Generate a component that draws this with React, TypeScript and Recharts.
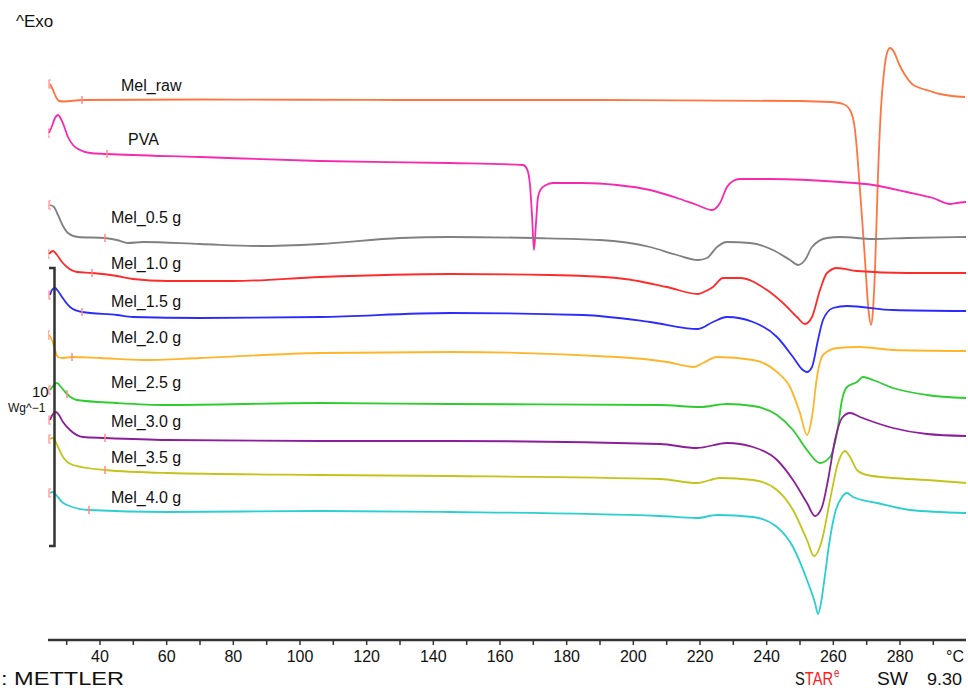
import { LineChart, Line, XAxis, YAxis } from "recharts";

// temperature (°C), heat flow offset (arbitrary, exo up)
const melRaw: [number, number][] = [
  [25.0, 556], [25.9, 550], [26.8, 543], [27.7, 539], [29.2, 538.5], [34.6, 540],
  [70, 540.5], [130, 540], [190, 540], [250, 539], [259, 538], [262.9, 536],
  [265, 530], [266.5, 510], [268, 450], [269.5, 380], [270.55, 330], [271.3, 315],
  [271.9, 330], [272.5, 370], [273.4, 465], [274.3, 532], [275.2, 568], [276.1, 587],
  [277, 592], [278.2, 588], [279.7, 576], [281.5, 565], [283.6, 556], [286, 552],
  [289, 549], [292, 546], [295.6, 544], [299.5, 543],
];

const pva: [number, number][] = [
  [24.7, 507], [25.6, 514], [26.5, 522], [27.4, 525], [28.3, 521], [29.2, 514],
  [30.4, 503], [31.9, 495], [34, 490], [37, 487], [42.1, 486], [70, 483],
  [106, 479], [145, 477], [166.9, 475], [168.1, 471], [169, 455], [169.6, 425],
  [170.2, 390], [170.8, 417], [171.4, 443], [172.3, 451], [173.8, 455], [175.9, 457],
  [184.9, 457], [195.1, 455], [205, 450], [213.1, 442], [219.1, 435], [223.6, 430],
  [226, 437], [228.1, 453], [229.9, 459], [232, 461], [241, 461], [262, 458],
  [271.9, 455], [282.1, 448], [289.9, 442], [295, 436], [297.1, 437], [299.8, 438],
];

const mel05: [number, number][] = [
  [25, 435], [26.2, 433], [27.4, 425], [28.9, 414], [30.4, 407], [33.4, 403],
  [41.5, 402], [45.1, 400], [48.4, 397], [52.9, 398], [70, 396], [88, 394],
  [106, 396], [130, 402], [145, 403], [169.9, 402], [190, 400], [205, 393],
  [213.1, 385], [219.4, 380], [222.1, 382], [225.1, 393], [228.1, 398], [235, 397],
  [241.9, 390], [247, 380], [249.4, 375], [251.5, 380], [253.6, 393], [258.1, 402],
  [262, 403], [271.9, 401], [282.1, 402], [299.8, 403],
];

const mel10: [number, number][] = [
  [24.7, 386], [25.9, 389], [27.1, 385], [28.6, 378], [30.1, 373], [33.1, 368],
  [37.6, 367], [45.1, 364], [49.9, 361], [60.1, 359], [79.9, 359], [106, 363],
  [145, 366], [175, 365], [195.1, 362], [210.1, 353], [219.4, 346], [221.8, 349],
  [223.9, 353], [226.9, 362], [232, 362], [240.1, 350], [244.9, 337], [249.1, 323],
  [251.5, 316], [253.6, 323], [256, 350], [258.1, 367], [261.1, 372], [267.1, 369],
  [282.1, 367], [299.8, 367],
];

const mel15: [number, number][] = [
  [25, 345], [25.6, 350], [26.5, 352], [27.4, 349], [28.6, 343], [31, 333],
  [34.6, 328], [45.1, 325], [49.9, 323], [70, 322], [106, 323], [145, 327],
  [184.9, 325], [205, 318], [219.4, 311], [223.9, 318], [228.1, 323], [235.9, 318],
  [243.1, 303], [247.9, 283], [250.9, 270], [252.1, 268], [253.6, 273], [255.4, 300],
  [256.9, 320], [259.9, 332], [264.1, 334], [277.9, 330], [299.8, 329],
];

const mel20: [number, number][] = [
  [24.7, 305], [25.6, 300], [26.5, 290], [27.4, 283], [28.6, 282], [31.6, 283],
  [40, 282], [52.9, 280], [70, 282], [106, 287], [145, 288], [195.1, 283],
  [210.1, 278], [218.2, 273], [220.9, 277], [225.1, 283], [235.9, 280], [243.1, 268],
  [247, 253], [250, 227], [252.1, 205], [253.6, 223], [255.1, 263], [256.9, 285],
  [261.1, 292], [268, 293], [277.9, 290], [299.8, 289],
];

const mel25: [number, number][] = [
  [25, 250], [26.2, 255], [27.1, 257], [28.3, 253], [30.1, 246], [33.1, 240],
  [45.1, 237], [60.1, 235], [106, 237], [145, 236], [208, 235], [220, 233],
  [228.1, 236], [235.9, 234], [243.1, 225], [247.9, 210], [252.1, 190], [256, 177],
  [259, 183], [261.1, 207], [262.6, 240], [264.1, 253], [267.1, 258], [268.9, 263],
  [271.9, 260], [277.9, 252], [288.1, 245], [299.8, 242],
];

const mel30: [number, number][] = [
  [25, 220], [25.9, 226], [26.8, 228], [27.7, 225], [28.9, 218], [31, 210],
  [34.9, 203], [41.5, 202], [60.1, 200], [106, 199], [145, 199], [208, 196],
  [219.1, 192], [228.1, 197], [235.9, 193], [243.1, 180], [247.9, 160], [252.1, 137],
  [254.5, 124], [256.6, 133], [258.4, 160], [260.5, 200], [262.6, 222], [265, 227],
  [268, 223], [277.9, 212], [288.1, 206], [299.8, 204],
];

const mel35: [number, number][] = [
  [25, 201], [25.9, 202], [27.4, 193], [28.9, 183], [31.9, 175], [41.5, 170],
  [60.1, 167], [106, 165], [145, 164], [208, 161], [219.1, 157], [226, 162],
  [235.9, 160], [243.1, 150], [247.9, 130], [252.1, 100], [254.2, 84], [256.6, 100],
  [259, 140], [261.4, 177], [263.5, 189], [265, 183], [267.1, 170], [270.1, 165],
  [277.9, 162], [288.1, 160], [299.8, 157],
];

const mel40: [number, number][] = [
  [25, 147], [25.9, 148], [27.1, 144], [28.6, 138], [30.1, 135], [36.7, 130],
  [60.1, 128], [106, 129], [145, 128], [208, 124], [219.1, 122], [225.1, 125],
  [235.9, 123], [243.1, 113], [247.9, 93], [252.1, 60], [254.5, 37], [255.4, 26],
  [256.3, 37], [257.5, 65], [258.7, 95], [260.5, 127], [262.6, 143], [264.1, 147],
  [265.9, 143], [273.1, 137], [283, 130], [299.8, 127],
];

const xTicks = [30, 40, 50, 60, 70, 80, 90, 100, 110, 120, 130, 140, 150, 160, 170, 180, 190, 200, 210, 220, 230, 240, 250, 260, 270, 280, 290];
const labelledTicks = [40, 60, 80, 100, 120, 140, 160, 180, 200, 220, 240, 260, 280];

const series = [
  { name: "Mel_raw", points: melRaw, mark: 34.6, color: "#ff7440", lx: 121, ly: 91 },
  { name: "PVA", points: pva, mark: 42.1, color: "#f52aae", lx: 128, ly: 145 },
  { name: "Mel_0.5 g", points: mel05, mark: 41.5, color: "#808080", lx: 111, ly: 223 },
  { name: "Mel_1.0 g", points: mel10, mark: 37.6, color: "#ff2a2a", lx: 111, ly: 269 },
  { name: "Mel_1.5 g", points: mel15, mark: 34.6, color: "#2b2bff", lx: 111, ly: 307 },
  { name: "Mel_2.0 g", points: mel20, mark: 31.6, color: "#ffb52a", lx: 111, ly: 343 },
  { name: "Mel_2.5 g", points: mel25, mark: 30.1, color: "#2ecc2e", lx: 111, ly: 388 },
  { name: "Mel_3.0 g", points: mel30, mark: 41.5, color: "#8b1f9b", lx: 111, ly: 427 },
  { name: "Mel_3.5 g", points: mel35, mark: 41.5, color: "#c3c31b", lx: 111, ly: 463 },
  { name: "Mel_4.0 g", points: mel40, mark: 36.7, color: "#2ccfd0", lx: 111, ly: 503 },
];

const font = "'Liberation Sans', Arial, Helvetica, sans-serif";
const markColor = "#ff8a8a";

function markerDot(mark: number) {
  return (props: any) => {
    const { cx, cy, index, payload } = props;
    const key = `m-${index}`;
    if (index === 0) {
      return <path key={key} d={`M${cx + 1},${cy - 4} h-2 v8 h2`} stroke={markColor} fill="none" strokeWidth={1.2} />;
    }
    if (payload && payload.t === mark) {
      return <line key={key} x1={cx} x2={cx} y1={cy - 4} y2={cy + 4} stroke={markColor} strokeWidth={1.5} />;
    }
    return <g key={key} />;
  };
}

function AxisTick(props: any) {
  const { x, y, payload } = props;
  const v = payload.value;
  return (
    <g>
      <line x1={x} x2={x} y1={y} y2={y + 5} stroke="#333" strokeWidth={1.5} />
      {labelledTicks.includes(v) ? (
        <text x={x} y={y + 22} textAnchor="middle" fontSize={16} fill="#111" fontFamily={font}>
          {v}
        </text>
      ) : null}
    </g>
  );
}

export default function App() {
  return (
    <div style={{ position: "absolute", left: 0, top: 0, width: 968, height: 690, background: "#fff", fontFamily: font }}>
      <LineChart width={968} height={690} margin={{ top: 0, right: 2, left: 48, bottom: 0 }}>
        <XAxis
          dataKey="t"
          type="number"
          domain={[24.4, 299.8]}
          allowDataOverflow
          ticks={xTicks}
          interval={0}
          height={50}
          tickSize={0}
          tickMargin={0}
          tickLine={false}
          axisLine={{ stroke: "#333", strokeWidth: 2.5 }}
          tick={<AxisTick />}
        />
        <YAxis hide width={0} type="number" domain={[0, 640]} allowDataOverflow />
        {series.map((s) => (
          <Line
            key={s.name}
            data={s.points.map(([t, v]) => ({ t, v }))}
            dataKey="v"
            type="monotone"
            stroke={s.color}
            strokeWidth={1.8}
            dot={markerDot(s.mark)}
            activeDot={false}
            isAnimationActive={false}
          />
        ))}
      </LineChart>
      <svg width={968} height={690} style={{ position: "absolute", left: 0, top: 0, pointerEvents: "none" }}>
        <g fontFamily={font} fill="#111">
          <text x={16} y={27} fontSize={17}>^Exo</text>
          {series.map((s) => (
            <text key={s.name} x={s.lx} y={s.ly} fontSize={16}>{s.name}</text>
          ))}
          <path d="M49,268 H54.5 V546 H49" stroke="#333" strokeWidth={2.5} fill="none" />
          <text x={32} y={397} fontSize={15}>10</text>
          <text x={8} y={412} fontSize={12}>Wg^−1</text>
          <text x={946} y={662} fontSize={16}>°C</text>
          <text x={1} y={685} fontSize={18} textLength={123} lengthAdjust="spacingAndGlyphs">: METTLER</text>
          <text transform="translate(795,685) scale(0.82,1)" fontSize={18}>
            <tspan>S</tspan>
            <tspan fill="#ff2020">TAR</tspan>
            <tspan fill="#ff2020" fontSize={12} dx={1} dy={-8}>e</tspan>
          </text>
          <text x={877} y={685} fontSize={18} textLength={31} lengthAdjust="spacingAndGlyphs">SW</text>
          <text x={927} y={685} fontSize={16} textLength={35} lengthAdjust="spacingAndGlyphs">9.30</text>
        </g>
      </svg>
    </div>
  );
}
